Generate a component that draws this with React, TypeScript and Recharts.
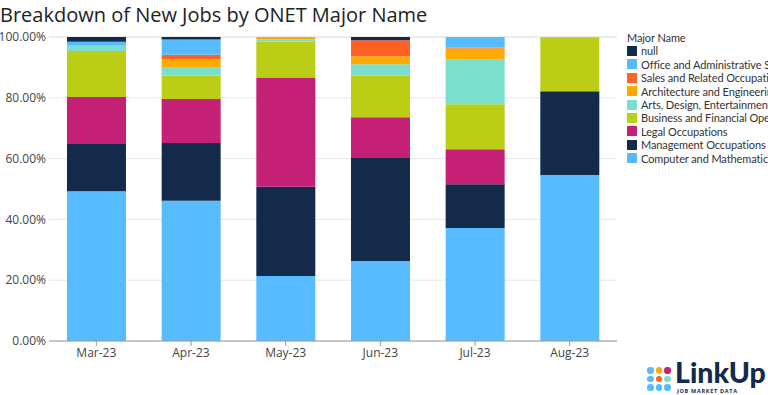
import React from 'react';
import { BarChart, Bar, XAxis, YAxis, CartesianGrid } from 'recharts';

const months = ['Mar-23', 'Apr-23', 'May-23', 'Jun-23', 'Jul-23', 'Aug-23'];

// stacked bottom -> top
const computer = [49.3, 46.1, 21.4, 26.3, 37.2, 54.6];
const management = [15.5, 19.0, 29.3, 33.9, 14.4, 27.4];
const legal = [15.5, 14.5, 36.0, 13.4, 11.5, 0.2];
const business = [15.1, 7.7, 11.7, 13.7, 14.8, 17.7];
const arts = [1.6, 2.6, 0.8, 3.7, 14.7, 0.1];
const architecture = [0.3, 2.9, 0.8, 2.7, 3.6, 0];
const sales = [0, 1.4, 0, 5.2, 0.3, 0];
const office = [1.1, 5.0, 0, 0, 3.5, 0];
const nullShare = [1.6, 0.8, 0, 1.1, 0, 0];

const yTicks = [0, 20, 40, 60, 80, 100];

const series = [
  { key: 'computer', name: 'Computer and Mathematical Occupations', color: '#56bcff', values: computer },
  { key: 'management', name: 'Management Occupations', color: '#132a4b', values: management },
  { key: 'legal', name: 'Legal Occupations', color: '#c42176', values: legal },
  { key: 'business', name: 'Business and Financial Operations Occupations', color: '#bccd16', values: business },
  { key: 'arts', name: 'Arts, Design, Entertainment, Sports, and Media Occupations', color: '#7adfcc', values: arts },
  { key: 'architecture', name: 'Architecture and Engineering Occupations', color: '#ffaa00', values: architecture },
  { key: 'sales', name: 'Sales and Related Occupations', color: '#ff6224', values: sales },
  { key: 'office', name: 'Office and Administrative Support Occupations', color: '#56bcff', values: office },
  { key: 'null', name: 'null', color: '#132a4b', values: nullShare },
];

const data = months.map((m, i) => {
  const row: Record<string, any> = { month: m };
  series.forEach((s) => {
    row[s.key] = s.values[i];
  });
  return row;
});

const FONT = '"Open Sans", sans-serif';

const dotColors = ['#56bcff', '#ffaa00', '#c42176', '#56bcff', '#ff6224', '#7adfcc', '#56bcff', '#56bcff', '#56bcff'];

export default function App() {
  return (
    <div style={{ position: 'absolute', left: 0, top: 0, width: 768, height: 395, overflow: 'hidden', background: '#fff', fontFamily: FONT }}>
      <div style={{ position: 'absolute', left: 0, top: 1, fontSize: 20, color: '#222', whiteSpace: 'nowrap' }}>
        Breakdown of New Jobs by ONET Major Name
      </div>
      <BarChart
        width={768}
        height={395}
        data={data}
        margin={{ top: 37, right: 151, bottom: 24, left: 0 }}
        barCategoryGap="19%"
      >
        <CartesianGrid vertical={false} stroke="#e6e6e6" />
        <XAxis
          dataKey="month"
          stroke="#999"
          tickSize={5}
          tickMargin={2}
          tick={{ fill: '#444', fontSize: 12, fontFamily: FONT }}
        />
        <YAxis
          width={49}
          domain={[0, 100]}
          ticks={yTicks}
          axisLine={false}
          tickLine={false}
          tickSize={3}
          tickMargin={0}
          tickFormatter={(v: number) => `${v.toFixed(2)}%`}
          tick={{ fill: '#444', fontSize: 12, fontFamily: FONT }}
        />
        {series.map((s) => (
          <Bar key={s.key} dataKey={s.key} name={s.name} stackId="a" fill={s.color} isAnimationActive={false} />
        ))}
      </BarChart>
      <div style={{ position: 'absolute', left: 627, top: 31, width: 141, overflow: 'hidden', fontSize: 11, color: '#333', whiteSpace: 'nowrap', lineHeight: '13.4px', fontFamily: 'Lato, sans-serif', letterSpacing: -0.1 }}>
        <div>Major Name</div>
        {[...series].reverse().map((s) => (
          <div key={s.key} style={{ display: 'flex', alignItems: 'center', height: 13.4 }}>
            <span style={{ display: 'inline-block', flex: 'none', width: 10, height: 10, background: s.color, marginRight: 4 }} />
            <span>{s.name}</span>
          </div>
        ))}
      </div>
      <div style={{ position: 'absolute', left: 647, top: 367, width: 26, display: 'flex', flexWrap: 'wrap', gap: 2 }}>
        {dotColors.map((c, i) => (
          <span key={i} style={{ width: 6.5, height: 6.5, borderRadius: '50%', background: c, display: 'inline-block' }} />
        ))}
      </div>
      <div style={{ position: 'absolute', left: 675, top: 359, fontSize: 28.5, lineHeight: '26px', fontWeight: 900, color: '#132a4b', fontFamily: 'Lato, sans-serif' }}>
        LinkUp
      </div>
      <div style={{ position: 'absolute', left: 677, top: 388, fontSize: 5.5, lineHeight: '6px', fontWeight: 700, color: '#132a4b', letterSpacing: 0.7, whiteSpace: 'nowrap' }}>
        JOB MARKET DATA
      </div>
    </div>
  );
}
